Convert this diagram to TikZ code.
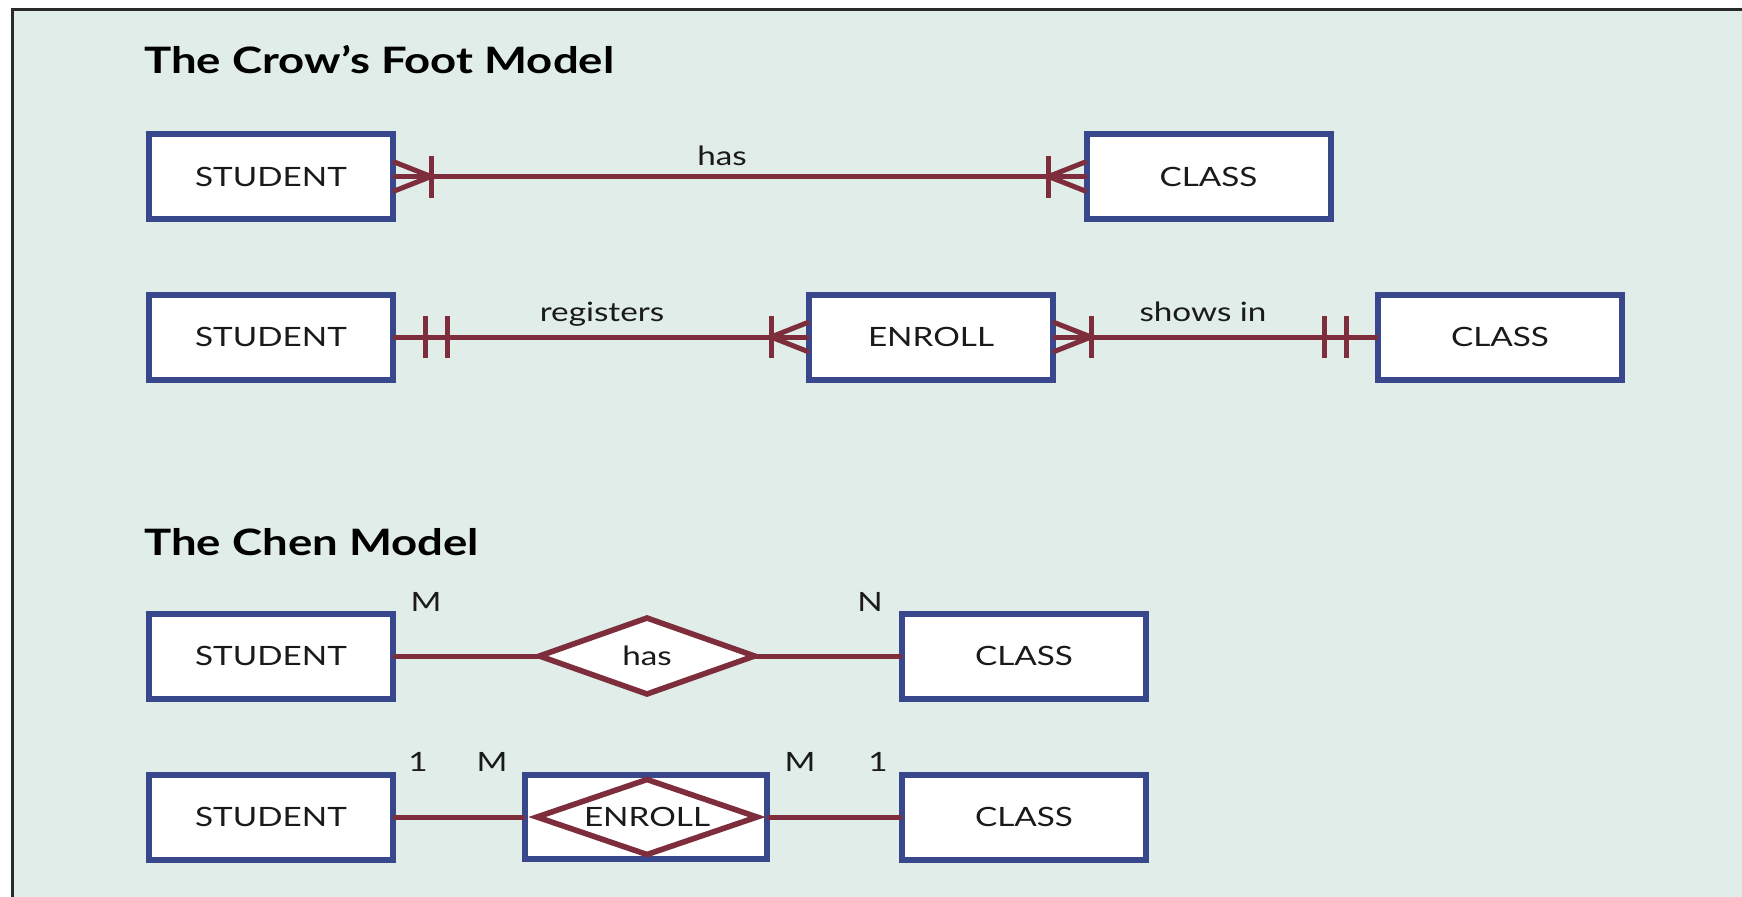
\documentclass[tikz,border=0pt]{standalone}
\usepackage{fontspec}
\setmainfont{Lato}
\newfontfamily\lblfont{Lato}[FakeStretch=1.25]
\newfontfamily\headfont{Lato}[FakeStretch=1.25]
\usetikzlibrary{calc,shapes.geometric}

\definecolor{panel}{HTML}{E0EDE8}
\definecolor{framegray}{HTML}{2A2A2A}
\definecolor{entblue}{HTML}{39478C}
\definecolor{relred}{HTML}{7D2D3C}
\definecolor{ink}{HTML}{1A1A1A}

\tikzset{
  entity/.style={draw=entblue, fill=white, line width=3pt, inner sep=0pt,
    outer sep=0pt, minimum width=122pt, minimum height=42.5pt,
    text=ink, font=\lblfont\fontsize{13.3}{16}\selectfont},
  relbox/.style={entity, minimum width=121pt, minimum height=42pt},
  reldiamond/.style={diamond, draw=relred, fill=white, line width=2.8pt,
    inner sep=0pt, outer sep=0pt, aspect=2.8,
    text=ink, font=\lblfont\fontsize{13.3}{16}\selectfont},
  rel/.style={draw=relred, line width=2.5pt},
  heading/.style={anchor=base west, inner sep=0pt, text=black,
    font=\headfont\bfseries\fontsize{18.2}{22}\selectfont},
  verb/.style={anchor=base, inner sep=0pt, text=ink,
    font=\lblfont\fontsize{13.3}{16}\selectfont},
  card/.style={anchor=base, inner sep=0pt, text=ink,
    font=\lblfont\fontsize{13.3}{16}\selectfont},
}

% crow's foot (many) with a single bar, pointing from an anchor along +/- x
\newcommand\manyone[2]{% #1 anchor, #2 direction (1 or -1)
  \draw[rel] ($(#1)+(0,-15)$) -- ($(#1)+(#2*38,0)$) -- ($(#1)+(0,15)$);
  \draw[rel] ($(#1)+(#2*38,-21)$) -- ($(#1)+(#2*38,21)$);
}
% two bars: mandatory one
\newcommand\onlyone[2]{%
  \draw[rel] ($(#1)+(#2*32,-21)$) -- ($(#1)+(#2*32,21)$);
  \draw[rel] ($(#1)+(#2*54,-21)$) -- ($(#1)+(#2*54,21)$);
}

\begin{document}
\begin{tikzpicture}[x=0.5pt,y=-0.5pt]
\useasboundingbox (0,0) rectangle (1742,896);
\clip (0,0) rectangle (1742,896);
\fill[white] (0,0) rectangle (1742,896);
\filldraw[fill=panel, draw=framegray, line width=1.5pt] (12,9) rectangle (1770,930);

% ---- Crow's Foot model ----
\node[heading] (t1) at (144,73) {The Crow’s Foot Model};

\node[entity] (s1) at (271,176.5) {STUDENT};
\node[entity] (c1) at (1208.5,176.5) {CLASS};
\draw[rel] (s1.east) -- (c1.west);
\node[verb] (l1) at (722,165) {has};
\manyone{s1.east}{1}
\manyone{c1.west}{-1}

\node[entity] (s2) at (271,337) {STUDENT};
\node[entity] (e2) at (931,337) {ENROLL};
\node[entity] (c2) at (1500,337) {CLASS};
\draw[rel] (s2.east) -- (e2.west);
\draw[rel] (e2.east) -- (c2.west);
\node[verb] (l2) at (602,321) {registers};
\node[verb] (l3) at (1203,321) {shows in};
\onlyone{s2.east}{1}
\manyone{e2.west}{-1}
\manyone{e2.east}{1}
\onlyone{c2.west}{-1}

% ---- Chen model ----
\node[heading] (t2) at (144,555) {The Chen Model};

\node[entity] (s3) at (271,656) {STUDENT};
\node[reldiamond, minimum width=107.5pt, minimum height=38pt] (d3) at (647,656) {has};
\node[entity] (c3) at (1024,656) {CLASS};
\draw[rel] (s3.east) -- (d3.west);
\draw[rel] (d3.east) -- (c3.west);
\node[card] (m3) at (426,611) {M};
\node[card] (n3) at (870,611) {N};

\node[entity] (s4) at (271,817) {STUDENT};
\node[relbox] (e4) at (646,817) {};
\node[reldiamond, minimum width=110pt, minimum height=37.5pt] (d4) at (647,817) {ENROLL};
\node[entity] (c4) at (1024,817) {CLASS};
\draw[rel] (s4.east) -- (e4.west);
\draw[rel] (e4.east) -- (c4.west);
\node[card] (a4) at (418,771) {1};
\node[card] (b4) at (492,771) {M};
\node[card] (f4) at (800,771) {M};
\node[card] (g4) at (878,771) {1};
\end{tikzpicture}
\end{document}
